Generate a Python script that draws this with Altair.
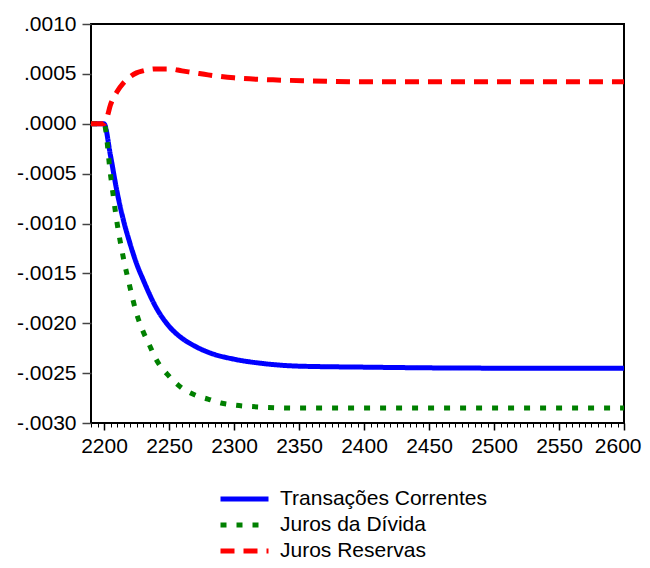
import altair as alt
import pandas as pd

# Series
tc_years = [2190, 2200, 2205, 2210, 2215, 2220, 2225, 2230, 2240, 2250, 2260, 2270, 2280, 2300, 2320, 2350, 2400, 2500, 2600]
tc_vals = [0, 0, -0.00032, -0.00068, -0.00097, -0.00120, -0.00140, -0.00156, -0.00184, -0.00203, -0.00215,
           -0.00223, -0.00229, -0.00236, -0.00240, -0.00243, -0.00244, -0.00245, -0.00245]

jd_years = [2190, 2200, 2205, 2210, 2215, 2220, 2225, 2230, 2235, 2240, 2250, 2260, 2270, 2280, 2290, 2300, 2320, 2350, 2400, 2600]
jd_vals = [0, 0, -0.00051, -0.00099, -0.00135, -0.00164, -0.00190, -0.00208, -0.00222, -0.00236, -0.00253,
           -0.00265, -0.00272, -0.00276, -0.00280, -0.00282, -0.00284, -0.00285, -0.00285, -0.00285]

jr_years = [2190, 2200, 2202, 2205, 2210, 2215, 2220, 2225, 2230, 2240, 2250, 2260, 2270, 2280, 2300, 2330, 2360, 2400, 2600]
jr_vals = [0, 0, 0.00005, 0.00019, 0.00032, 0.00041, 0.00047, 0.00051, 0.00053, 0.00055, 0.00055, 0.00053,
           0.00051, 0.00049, 0.00046, 0.00044, 0.00043, 0.00042, 0.00042]

series_names = ["Transações Correntes", "Juros da Dívida", "Juros Reservas"]
series_colors = ["#0000FF", "#008000", "#FF0000"]
series_dashes = [[1, 0], [6, 10], [14, 9]]

y_ticks = [0.0010, 0.0005, 0.0, -0.0005, -0.0010, -0.0015, -0.0020, -0.0025, -0.0030]
x_major = [2200, 2250, 2300, 2350, 2400, 2450, 2500, 2550, 2600]
x_minor = list(range(2190, 2601, 5))

frames = []
for name, yrs, vals in zip(series_names, [tc_years, jd_years, jr_years], [tc_vals, jd_vals, jr_vals]):
    frames.append(pd.DataFrame({"year": yrs, "value": vals, "serie": name}))
df = pd.concat(frames, ignore_index=True)

FONT = "Liberation Sans"
FS = 21

color = alt.Color("serie:N", scale=alt.Scale(domain=series_names, range=series_colors),
                  legend=alt.Legend(title=None, orient="none", legendX=127, legendY=462,
                                    direction="vertical", symbolType="stroke", symbolSize=2304,
                                    symbolStrokeWidth=5, labelFontSize=FS, labelFont=FONT,
                                    labelColor="black", labelOffset=9, rowPadding=0, padding=0,
                                    clipHeight=26, labelLimit=500))
dash = alt.StrokeDash("serie:N", scale=alt.Scale(domain=series_names, range=series_dashes), legend=None)

yenc = alt.Y("value:Q", scale=alt.Scale(domain=[-0.003, 0.001], nice=False, zero=False),
             axis=alt.Axis(values=y_ticks, title=None, grid=False, domain=False, tickSize=9,
                           tickColor="#444", tickWidth=1.5, labelPadding=6, labelFontSize=FS,
                           labelFont=FONT, labelColor="black",
                           labelExpr="(datum.value < -0.00000001 ? '-' : '') + substring(format(abs(datum.value), '.4f'), 1)"))

xscale = alt.Scale(domain=[2190, 2600], nice=False, zero=False)

major_axis = alt.Axis(values=x_major, title=None, grid=False, domain=False, orient="bottom", tickSize=7,
                      tickColor="black", tickWidth=1.5, labelPadding=5, labelFontSize=FS, labelFont=FONT,
                      labelColor="black", format="d", labelFlush=1, labelFlushOffset=17)
minor_axis = alt.Axis(values=x_minor, title=None, grid=False, domain=False, orient="bottom", tickSize=4,
                      tickColor="black", tickWidth=1, labels=False)


def layer_for(name, axis):
    x = alt.X("year:Q", scale=xscale, axis=axis)
    return alt.Chart(df).transform_filter(alt.datum.serie == name).mark_line(
        strokeWidth=5, interpolate="monotone", strokeCap="butt"
    ).encode(x=x, y=yenc, color=color, strokeDash=dash)


chart = alt.layer(
    layer_for(series_names[0], major_axis),
    layer_for(series_names[1], minor_axis),
    layer_for(series_names[2], None),
).resolve_axis(x="independent").properties(
    width=533, height=399,
    autosize=alt.AutoSizeParams(type="none"),
    padding={"left": 83, "top": 16, "right": 18, "bottom": 137},
).configure_view(stroke="black", strokeWidth=2)

chart.save("out.html", embed_options={"renderer": "svg", "actions": False})
